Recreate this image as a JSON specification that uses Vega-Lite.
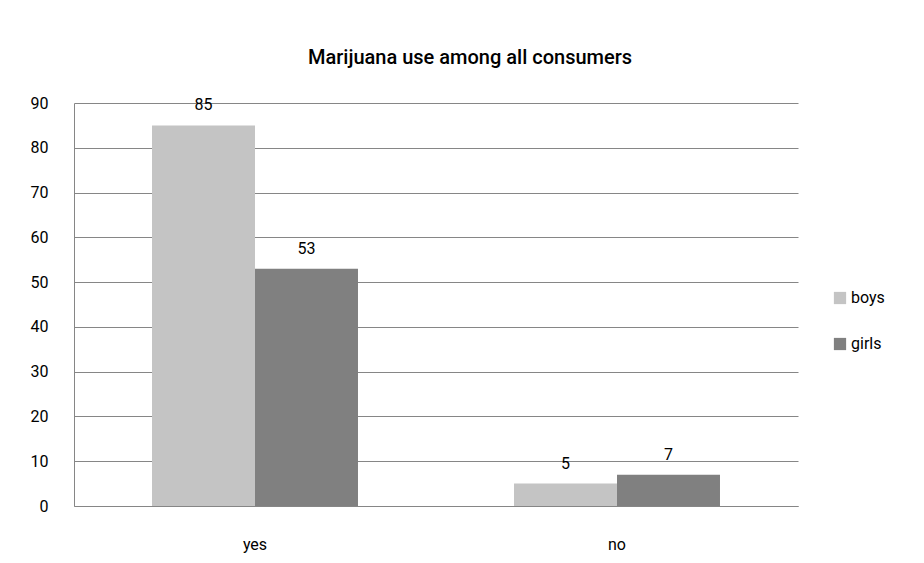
{
  "$schema": "https://vega.github.io/schema/vega-lite/v6.json",
  "autosize": "none",
  "padding": {"left": 74, "top": 103, "right": 126, "bottom": 57},
  "width": 724,
  "height": 403,
  "background": "white",
  "config": {
    "view": {"stroke": null},
    "font": "Roboto"
  },
  "title": {
    "text": "Marijuana use among all consumers",
    "fontSize": 20,
    "fontWeight": 500,
    "font": "Roboto",
    "color": "#000000",
    "anchor": "middle",
    "dx": 34,
    "offset": 27
  },
  "data": {
    "values": [
      {"answer": "yes", "gender": "boys", "value": 85},
      {"answer": "yes", "gender": "girls", "value": 53},
      {"answer": "no", "gender": "boys", "value": 5},
      {"answer": "no", "gender": "girls", "value": 7}
    ]
  },
  "encoding": {
    "x": {
      "field": "answer",
      "type": "nominal",
      "sort": ["yes", "no"],
      "scale": {"paddingInner": 0.431, "paddingOuter": 0.2155},
      "axis": {
        "title": null,
        "labelAngle": 0,
        "labelFontSize": 16,
        "labelFont": "Roboto",
        "labelColor": "#000000",
        "labelPadding": 30,
        "ticks": false,
        "domainColor": "#868686",
        "grid": false
      }
    },
    "xOffset": {"field": "gender", "type": "nominal", "sort": ["boys", "girls"]},
    "y": {
      "field": "value",
      "type": "quantitative",
      "scale": {"domain": [0, 90]},
      "axis": {
        "title": null,
        "values": [0, 10, 20, 30, 40, 50, 60, 70, 80, 90],
        "labelFontSize": 16,
        "labelFont": "Roboto",
        "labelColor": "#000000",
        "labelPadding": 26,
        "ticks": false,
        "domain": true,
        "domainColor": "#868686",
        "gridColor": "#868686",
        "gridWidth": 1
      }
    }
  },
  "layer": [
    {
      "mark": {"type": "bar"},
      "encoding": {
        "color": {
          "field": "gender",
          "type": "nominal",
          "sort": ["boys", "girls"],
          "scale": {"domain": ["boys", "girls"], "range": ["#c4c4c4", "#808080"]},
          "legend": {
            "title": null,
            "orient": "none",
            "legendX": 758,
            "legendY": 187,
            "symbolType": "square",
            "symbolSize": 150,
            "symbolStrokeWidth": 0,
            "labelFontSize": 16,
            "labelFont": "Roboto",
            "labelColor": "#000000",
            "labelOffset": 3,
            "rowPadding": 30
          }
        }
      }
    },
    {
      "mark": {"type": "text", "baseline": "bottom", "dy": -12, "fontSize": 16, "font": "Roboto", "color": "#000000"},
      "encoding": {
        "text": {"field": "value", "type": "quantitative"}
      }
    }
  ]
}
